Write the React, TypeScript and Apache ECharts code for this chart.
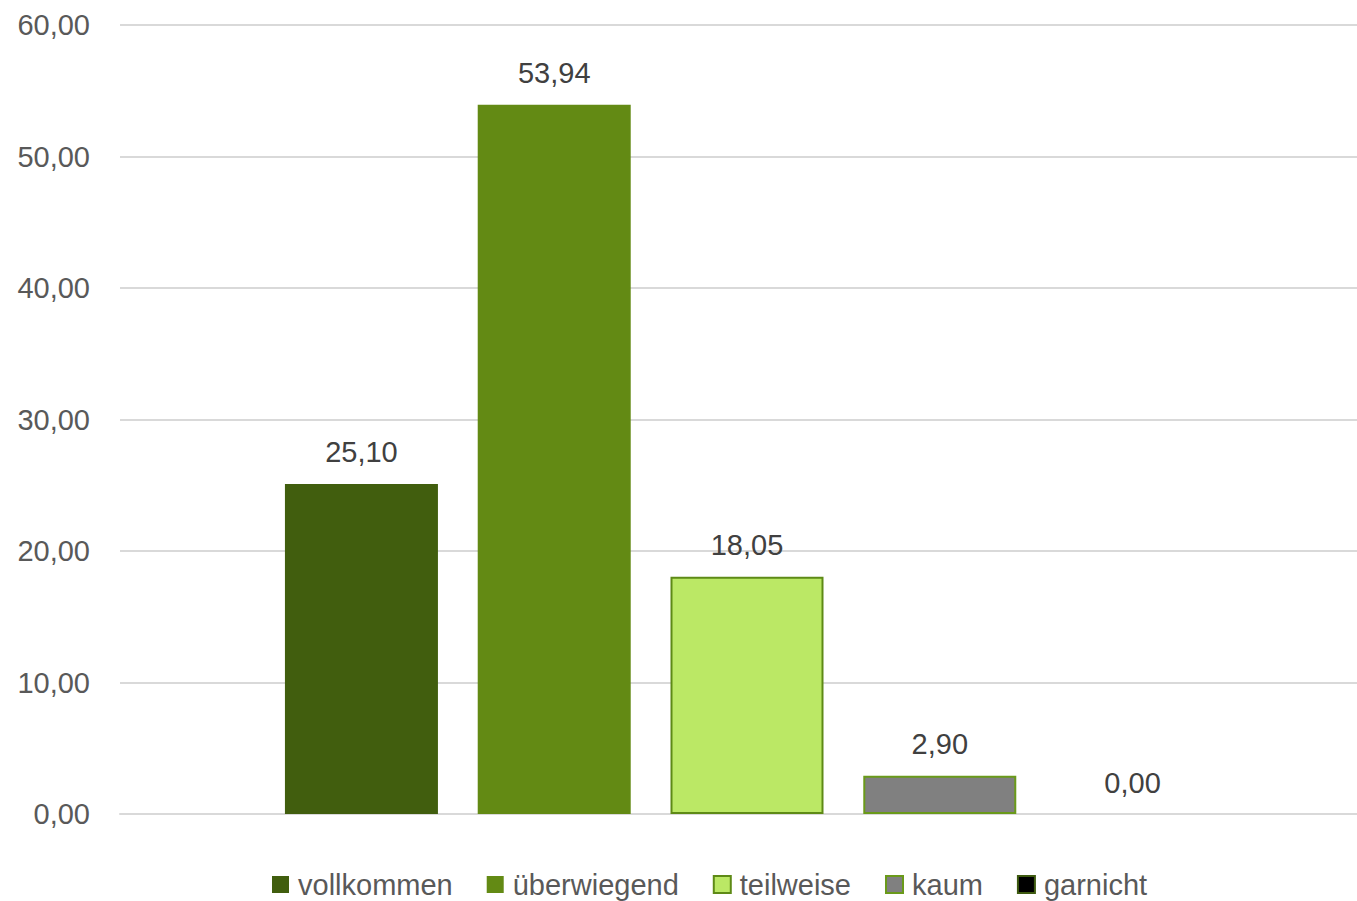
import React, { useEffect, useRef } from "react";
import * as echarts from "echarts";

const seriesNames = ["vollkommen", "überwiegend", "teilweise", "kaum", "garnicht"];
const seriesValues = [25.1, 53.94, 18.05, 2.9, 0.0];
const seriesColors = ["#415e0e", "#638a14", "#bbe865", "#808080", "#000000"];
const seriesBorders = ["#415e0e", "#638a14", "#5e8a16", "#6a9a1a", "#3e5a10"];
const categories = [""];

const FONT = "'Liberation Sans Narrow', 'Arial Narrow', 'Liberation Sans', Arial, sans-serif";
const fmt = (v: number) => v.toFixed(2).replace(".", ",");

export default function App() {
  const ref = useRef<HTMLDivElement>(null);
  useEffect(() => {
    document.body.style.margin = "0";
    const chart = echarts.init(ref.current!, null, { renderer: "svg" });
    chart.setOption({
      animation: false,
      backgroundColor: "#ffffff",
      textStyle: { fontFamily: FONT },
      grid: { left: 120, width: 1254, top: 25, bottom: 87, outerBoundsMode: "none", containLabel: false },
      legend: {
        top: 865,
        left: 267,
        itemWidth: 17,
        itemHeight: 17,
        itemGap: 34,
        textStyle: { fontSize: 29, color: "#595959", fontFamily: FONT, padding: [0, 0, 0, 4] },
        data: seriesNames.map((n, i) => ({
          name: n,
          icon: "rect",
          itemStyle: {
            color: seriesColors[i],
            borderColor: seriesBorders[i],
            borderWidth: i >= 2 ? 2 : 0,
          },
        })),
      },
      xAxis: {
        type: "category",
        data: categories,
        axisLine: { show: true, lineStyle: { color: "#d9d9d9", width: 2 } },
        axisTick: { show: false },
        axisLabel: { show: false },
      },
      yAxis: {
        type: "value",
        min: 0,
        max: 60,
        interval: 10,
        axisLine: { show: false },
        axisTick: { show: false },
        splitLine: { lineStyle: { color: "#d9d9d9", width: 2 } },
        axisLabel: {
          formatter: (v: number) => fmt(v),
          fontSize: 29,
          color: "#595959",
          margin: 30,
          fontFamily: FONT,
        },
      },
      series: seriesNames.map((name, i) => ({
        name,
        type: "bar",
        data: [seriesValues[i]],
        barWidth: 153,
        barGap: "26%",
        itemStyle: {
          color: seriesColors[i],
          borderColor: seriesBorders[i],
          borderWidth: i === 2 || i === 3 ? 2 : 0,
        },
        label: {
          show: true,
          position: "top",
          distance: 17,
          formatter: (p: any) => fmt(p.value),
          fontSize: 29,
          color: "#404040",
          fontFamily: FONT,
        },
      })),
    });
    return () => chart.dispose();
  }, []);
  return <div ref={ref} style={{ width: 1357, height: 901 }} />;
}
